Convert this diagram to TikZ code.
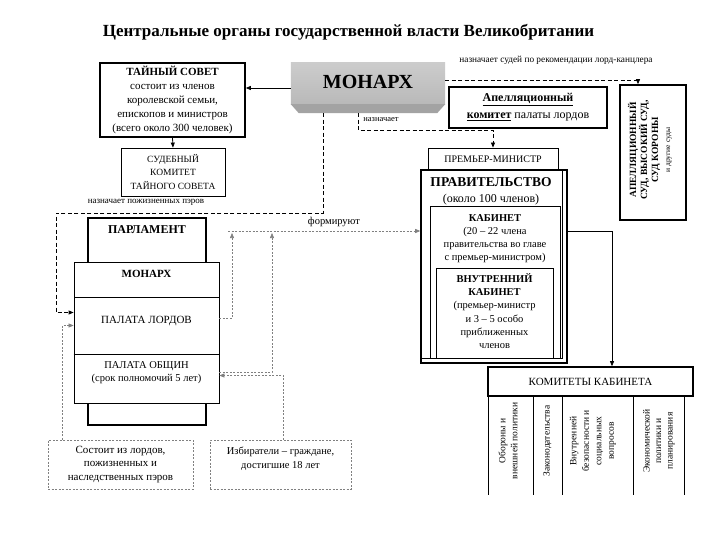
\documentclass[tikz,border=0pt]{standalone}
\usepackage{fontspec}
\setmainfont{Liberation Serif}
\usetikzlibrary{arrows.meta,calc}
\newcommand{\fsz}[2]{\fontsize{#1}{#2}\selectfont}
\tikzset{
  thickbox/.style={draw, line width=1.6pt, fill=white, inner sep=0pt},
  thinbox/.style={draw, line width=0.8pt, fill=white, inner sep=0pt},
  dbox/.style={draw=gray, line width=0.6pt, dash pattern=on 2pt off 1.5pt, inner sep=0pt},
  mdash/.style={line width=0.8pt, dash pattern=on 4pt off 2.5pt},
  gdash/.style={draw=gray, line width=0.6pt, dash pattern=on 2pt off 1.5pt},
  tip/.style={-{Triangle[length=5pt,width=4pt]}},
  txt/.style={inner sep=0pt, align=center}
}
\begin{document}
\begin{tikzpicture}[x=1pt,y=-1pt]
\useasboundingbox[fill=white] (0,0) rectangle (720,540);

% title
\node[txt, font=\bfseries\fsz{17}{20}] (title) at (348.5,32) {Центральные органы государственной власти Великобритании};

% Privy council
\node[thickbox, minimum width=145pt, minimum height=74pt, align=center, font=\fsz{11}{14}] (tsovet) at (172.5,100)
  {\textbf{ТАЙНЫЙ СОВЕТ}\\состоит из членов\\королевской семьи,\\епископов и министров\\(всего около 300 человек)};
\node[thinbox, minimum width=104pt, minimum height=48pt, align=center, font=\fsz{9.5}{13.5}] (sud) at (173,172)
  {СУДЕБНЫЙ\\КОМИТЕТ\\ТАЙНОГО СОВЕТА};

% Monarch (grey bevelled box)
\node[minimum width=154pt, minimum height=50pt, inner sep=0pt] (mon) at (368,88) {};
\shade[top color=gray!40, bottom color=gray!55] (mon.north west) rectangle ([yshift=9pt]mon.south east);
\fill[gray!72] ([yshift=9pt]mon.south west) -- ([yshift=9pt]mon.south east) -- ([xshift=-8pt]mon.south east) -- ([xshift=8pt]mon.south west) -- cycle;
\node[txt, font=\bfseries\fsz{20}{24}] (montext) at (368,82) {МОНАРХ};

% Appeal committee
\node[thickbox, minimum width=158pt, minimum height=41pt, align=center, font=\fsz{12}{17}] (appeal) at (528,107.5)
  {\textbf{\underline{Апелляционный}}\\\textbf{\underline{комитет}} палаты лордов};

% Courts
\node[thickbox, minimum width=66pt, minimum height=135pt] (courts) at (653,152.5) {};
\node[txt, rotate=90, font=\bfseries\fsz{9.5}{11}] (courtstext) at (650,150)
  {АПЕЛЛЯЦИОННЫЙ\\СУД, ВЫСОКИЙ СУД,\\СУД КОРОНЫ\\[1pt]{\mdseries\fsz{7.5}{9}и другие суды}};

% Prime minister and government
\node[thinbox, minimum width=130pt, minimum height=22pt, font=\fsz{10}{12}] (pm) at (493,159) {ПРЕМЬЕР-МИНИСТР};
\node[thickbox, minimum width=146pt, minimum height=193pt] (gov) at (494,266.5) {};
\draw[line width=0.8pt] (gov.north west) rectangle ([xshift=-5pt,yshift=5pt]gov.south east);
\node[txt, font=\fsz{12}{16}] (govtext) at (491,191) {{\bfseries\fsz{13.5}{16}ПРАВИТЕЛЬСТВО}\\(около 100 членов)};
\node[thinbox, line width=1pt, minimum width=130pt, minimum height=151pt] (cab) at (495,282.5) {};
\node[txt, font=\fsz{10.5}{13}] (cabtext) at (495,238.5) {\textbf{КАБИНЕТ}\\(20 – 22 члена\\правительства во главе\\с премьер-министром)};
\node[thinbox, minimum width=117pt, minimum height=90pt] (inner) at (494.5,313) {};
\node[txt, font=\fsz{10.5}{13.2}] (innertext) at (494.5,311) {\textbf{ВНУТРЕННИЙ}\\\textbf{КАБИНЕТ}\\(премьер-министр\\и 3 – 5 особо\\приближенных\\членов};

% Parliament
\node[thickbox, minimum width=118pt, minimum height=207pt] (parl) at (147,321.5) {};
\node[txt, font=\bfseries\fsz{12}{14}] (parltext) at (147,230) {ПАРЛАМЕНТ};
\node[thinbox, minimum width=145pt, minimum height=35pt] (pmon) at (146.5,279.5) {};
\node[thinbox, minimum width=145pt, minimum height=57pt] (plords) at (146.5,325.5) {};
\node[thinbox, minimum width=145pt, minimum height=49pt] (pcommons) at (146.5,378.5) {};
\draw[line width=1.5pt] (plords.south west) -- (plords.south east);
\node[txt, font=\bfseries\fsz{11}{13}] (pmontext) at (146.5,274) {МОНАРХ};
\node[txt, font=\fsz{11}{13}] (plordstext) at (146.5,321) {ПАЛАТА ЛОРДОВ};
\node[txt, font=\fsz{10.5}{13}] (pcommonstext) at (146.5,372.5) {ПАЛАТА ОБЩИН\\(срок полномочий 5 лет)};

% bottom dashed boxes
\node[dbox, minimum width=145pt, minimum height=49pt, align=center, font=\fsz{11}{13.5}] (lordsbox) at (120.5,464.5)
  {Состоит из лордов,\\пожизненных и\\наследственных пэров};
\node[dbox, minimum width=141pt, minimum height=49pt] (votersbox) at (280.5,464.5) {};
\node[txt, font=\fsz{10.5}{14}] (voterstext) at (280.5,459) {Избиратели – граждане,\\достигшие 18 лет};

% Cabinet committees
\node[thickbox, minimum width=205pt, minimum height=29pt, font=\fsz{11}{13}] (kom) at (590.5,381.5) {КОМИТЕТЫ КАБИНЕТА};
\coordinate (k1) at (488,396); \coordinate (k2) at (533,396); \coordinate (k3) at (562,396);
\coordinate (k4) at (633,396); \coordinate (k5) at (684,396);
\foreach \k in {k1,k2,k3,k4,k5} \draw[line width=0.6pt] (\k) -- ++(0,99);
\node[txt, rotate=90, font=\fsz{9.5}{12}] (c1) at (508,441) {Обороны и\\внешней политики};
\node[txt, rotate=90, font=\fsz{9.5}{12}] (c2) at (547.5,441) {Законодательства};
\node[txt, rotate=90, font=\fsz{9.5}{12.5}] (c3) at (593,441) {Внутренней\\безопасности и\\социальных\\вопросов};
\node[txt, rotate=90, font=\fsz{9.5}{11.5}] (c4) at (659,441) {Экономической\\политики и\\планирования};

% connectors
\draw[line width=0.8pt, tip] (mon.west) -- (mon.west -| tsovet.east);
\draw[line width=0.8pt, tip] (tsovet.south) -- (sud.north);

\draw[mdash, tip] ([yshift=8pt]mon.east) -| ([xshift=-15pt]courts.north);
\node[txt, font=\fsz{9.3}{10}] (lbl1) at (556,60) {назначает судей по рекомендации лорд-канцлера};

\draw[mdash, tip] ([xshift=-10pt]mon.south) -- ++(0,17) -| (pm.north);
\node[txt, font=\fsz{8.5}{10}] (lbl2) at (381,120) {назначает};

\coordinate (c1a) at (56,213);
\draw[mdash, tip] ([xshift=-45pt]mon.south) |- (c1a) |- ([yshift=13pt]plords.west);
\node[txt, font=\fsz{9}{10}] (lbl3) at (146,202) {назначает пожизненных пэров};

\draw[gdash, tip] ([xshift=-58pt]lordsbox.north) |- (plords.west);
\draw[gdash, tip] ([xshift=3pt]votersbox.north) |- ([yshift=3pt]pcommons.east);

\coordinate (f1) at (232,233);
\coordinate (f2) at (272,233);
\coordinate (fl) at (228,231);
\draw[gdash, tip] ([yshift=7pt]plords.east) -| (f1);
\draw[gdash, tip] ([yshift=6pt]pcommons.east) -| (f2);
\draw[gdash, tip] (fl) -- (fl -| gov.west);
\node[txt, font=\fsz{10.5}{12}] (lbl4) at (334,222) {формируют};

\draw[line width=0.6pt, tip] ([yshift=35pt]gov.east) -| ([xshift=21.5pt]kom.north);
\end{tikzpicture}
\end{document}
